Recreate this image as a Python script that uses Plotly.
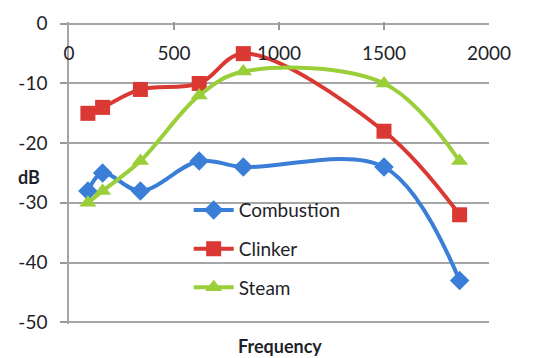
import plotly.graph_objects as go

freq = [90, 160, 340, 620, 830, 1500, 1860]
combustion = [-28, -25, -28, -23, -24, -24, -43]
clinker = [-15, -14, -11, -10, -5, -18, -32]
steam = [-30, -28, -23, -12, -8, -10, -23]

x_ticks = [0, 500, 1000, 1500, 2000]
y_ticks = [0, -10, -20, -30, -40, -50]
y_tick_labels = ["0", "-10", "-20", "-30", "-40", "-50"]

FONT = "Lato"
TXT = "#1f1f2a"
GRID = "#A6A6A6"

fig = go.Figure()
series = [
    ("Combustion", combustion, "#3A7ED8", "diamond", 15),
    ("Clinker", clinker, "#DA3832", "square", 15),
    ("Steam", steam, "#9ACF3A", "triangle-up", 15),
]
for name, vals, col, sym, sz in series:
    fig.add_trace(go.Scatter(
        x=freq, y=vals, name=name, mode="lines+markers",
        line=dict(color=col, width=4, shape="spline", smoothing=1),
        marker=dict(symbol=sym, size=sz, color=col),
        legendgroup=name,
    ))
# empty trace carrying the tick-label axis
fig.add_trace(go.Scatter(x=[], y=[], xaxis="x2", yaxis="y",
                         showlegend=False, hoverinfo="skip"))

fig.update_layout(
    template="none",
    width=537, height=358,
    margin=dict(l=69, r=48, t=22, b=34),
    paper_bgcolor="white", plot_bgcolor="white",
    font=dict(family=FONT, size=19, color=TXT),
    showlegend=True,
    legend=dict(x=0.285, y=0.44, xanchor="left", yanchor="top",
                bgcolor="rgba(0,0,0,0)", font=dict(size=19, color=TXT),
                tracegroupgap=11, itemwidth=40),
    xaxis=dict(
        range=[0, 2000], side="top", tickvals=x_ticks,
        ticks="inside", ticklen=8, tickcolor="#999999", tickwidth=1.5,
        showticklabels=False, mirror=False,
        showline=False, showgrid=False, zeroline=False,
    ),
    xaxis2=dict(
        range=[0, 2000], overlaying="x", side="top", anchor="free",
        position=(324 - 64) / 302, tickvals=x_ticks, ticks="",
        showline=False, showgrid=False, zeroline=False, mirror=False,
        tickfont=dict(size=19, color=TXT),
    ),
    yaxis=dict(
        range=[-50.3, 0.3], tickvals=y_ticks, ticktext=y_tick_labels,
        ticks="outside", ticklen=7, tickcolor="#999999", tickwidth=1.5,
        showgrid=True, gridcolor=GRID, gridwidth=1.5,
        showline=True, linecolor=GRID, linewidth=1.5, mirror=False,
        zeroline=False, ticklabelstandoff=9,
        tickfont=dict(size=19, color=TXT),
    ),
)
fig.add_annotation(text="<b>dB</b>", xref="paper", yref="paper",
                   x=(29 - 69) / 420, y=(324 - 177) / 302,
                   xanchor="center", yanchor="middle",
                   showarrow=False, font=dict(size=18, color=TXT))
fig.add_annotation(text="<b>Frequency</b>", xref="paper", yref="paper",
                   x=(280 - 69) / 420, y=(324 - 346) / 302,
                   xanchor="center", yanchor="middle",
                   showarrow=False, font=dict(size=18, color=TXT))

fig.write_html("out.html", config={"displayModeBar": False},
               post_script="document.body.style.margin='0';")
